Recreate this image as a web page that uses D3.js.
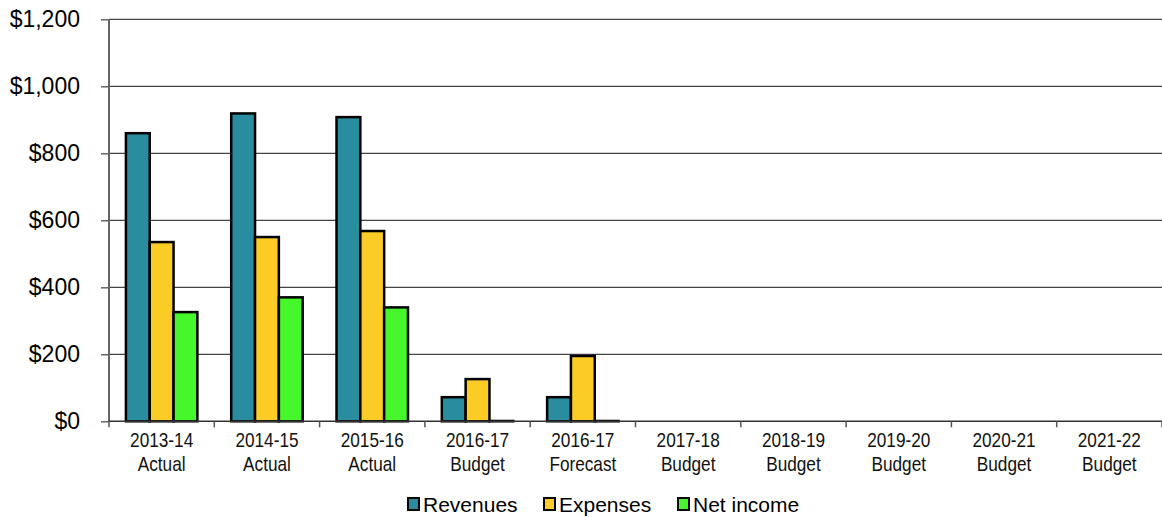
<!DOCTYPE html>
<html>
<head>
<meta charset="utf-8">
<script src="https://cdn.jsdelivr.net/npm/d3@7"></script>
<style>
  html, body { margin: 0; padding: 0; background: #fff; }
  svg { display: block; }
</style>
</head>
<body>
<svg id="chart" width="1162" height="517"></svg>
<script>
// Fiscal periods shown along the bottom (two-line labels)
const periods = ["2013-14", "2014-15", "2015-16", "2016-17", "2016-17", "2017-18", "2018-19", "2019-20", "2020-21", "2021-22"];
const periodKinds = ["Actual", "Actual", "Actual", "Budget", "Forecast", "Budget", "Budget", "Budget", "Budget", "Budget"];

// Values in $ (thousands); null = nothing reported
const revenues = [860, 919, 908, 72, 72, null, null, null, null, null];
const expenses = [535, 550, 568, 126, 195, null, null, null, null, null];
const netIncome = [326, 370, 340, 1, 1, null, null, null, null, null];

const seriesNames = ["Revenues", "Expenses", "Net income"];
const seriesColors = ["#2a8c9f", "#fbcb26", "#45f72b"];
const yTicks = [0, 200, 400, 600, 800, 1000, 1200];

const seriesValues = [revenues, expenses, netIncome];

const svg = d3.select("#chart");
const plotLeft = 109, plotRight = 1162, plotTop = 19.3, plotBottom = 421.3;

const x = d3.scaleBand()
  .domain(d3.range(periods.length))
  .range([plotLeft, plotRight])
  .padding(0);

const xs = d3.scaleBand()
  .domain(d3.range(seriesNames.length))
  .range([0, x.bandwidth()])
  .paddingInner(0)
  .paddingOuter(0.71);

const y = d3.scaleLinear().domain([0, 1200]).range([plotBottom, plotTop]);

// Horizontal gridlines
svg.append("g")
  .selectAll("line")
  .data(yTicks.filter(d => d > 0))
  .join("line")
  .attr("x1", plotLeft).attr("x2", plotRight)
  .attr("y1", d => y(d)).attr("y2", d => y(d))
  .attr("stroke", "#444").attr("stroke-width", 1.3);

// Left axis: ticks + labels
const yAxis = d3.axisLeft(y)
  .tickValues(yTicks)
  .tickSize(8)
  .tickPadding(21)
  .tickFormat(d => "$" + d3.format(",")(d));
const gy = svg.append("g").attr("transform", `translate(${plotLeft},0)`).call(yAxis);
gy.select(".domain").remove();
gy.selectAll(".tick line").attr("stroke", "#666").attr("stroke-width", 1.5);
gy.selectAll(".tick text")
  .attr("font-family", "'Liberation Sans', Arial, sans-serif")
  .attr("font-size", 23)
  .attr("fill", "#000");

// Bars
const groups = svg.append("g")
  .selectAll("g")
  .data(periods.map((p, i) => i))
  .join("g")
  .attr("transform", i => `translate(${x(i)},0)`);

groups.selectAll("rect")
  .data(i => seriesValues.map((vals, s) => ({ s, v: vals[i] })).filter(d => d.v != null))
  .join("rect")
  .attr("x", d => xs(d.s))
  .attr("width", xs.bandwidth())
  .attr("y", d => y(d.v))
  .attr("height", d => y(0) - y(d.v))
  .attr("fill", d => seriesColors[d.s])
  .attr("stroke", "#000")
  .attr("stroke-width", 2.5);

// Y axis line
svg.append("line")
  .attr("x1", plotLeft).attr("x2", plotLeft)
  .attr("y1", plotTop).attr("y2", plotBottom)
  .attr("stroke", "#666").attr("stroke-width", 2);

// Baseline and category boundary ticks
svg.append("line")
  .attr("x1", plotLeft).attr("x2", plotRight)
  .attr("y1", y(0)).attr("y2", y(0))
  .attr("stroke", "#333").attr("stroke-width", 1.6);

svg.append("g")
  .selectAll("line")
  .data(d3.range(periods.length + 1))
  .join("line")
  .attr("x1", i => plotLeft + i * x.step()).attr("x2", i => plotLeft + i * x.step())
  .attr("y1", y(0)).attr("y2", y(0) + 6)
  .attr("stroke", "#555").attr("stroke-width", 1.5);

// Category labels, set in a condensed face
const labels = svg.append("g")
  .selectAll("text")
  .data(periods.map((p, i) => i))
  .join("text")
  .attr("transform", i => `translate(${x(i) + x.bandwidth() / 2},0) scale(0.82,1)`)
  .attr("text-anchor", "middle")
  .attr("font-family", "'Liberation Sans', Arial, sans-serif")
  .attr("font-size", 21)
  .attr("fill", "#111");
labels.append("tspan")
  .attr("x", 0)
  .attr("y", 446.7)
  .text(i => periods[i]);
labels.append("tspan")
  .attr("x", 0)
  .attr("y", 470.7)
  .text(i => periodKinds[i]);

// Legend
const legendX = [407, 543, 677];
const legend = svg.append("g")
  .selectAll("g")
  .data(seriesNames.map((n, i) => i))
  .join("g")
  .attr("transform", i => `translate(${legendX[i]},0)`);
legend.append("rect")
  .attr("x", 1).attr("y", 498)
  .attr("width", 11).attr("height", 12)
  .attr("fill", i => seriesColors[i])
  .attr("stroke", "#000").attr("stroke-width", 2);
legend.append("text")
  .attr("x", 16).attr("y", 511.5)
  .attr("font-family", "'Liberation Sans', Arial, sans-serif")
  .attr("font-size", 21)
  .attr("fill", "#000")
  .text(i => seriesNames[i]);
</script>
</body>
</html>
